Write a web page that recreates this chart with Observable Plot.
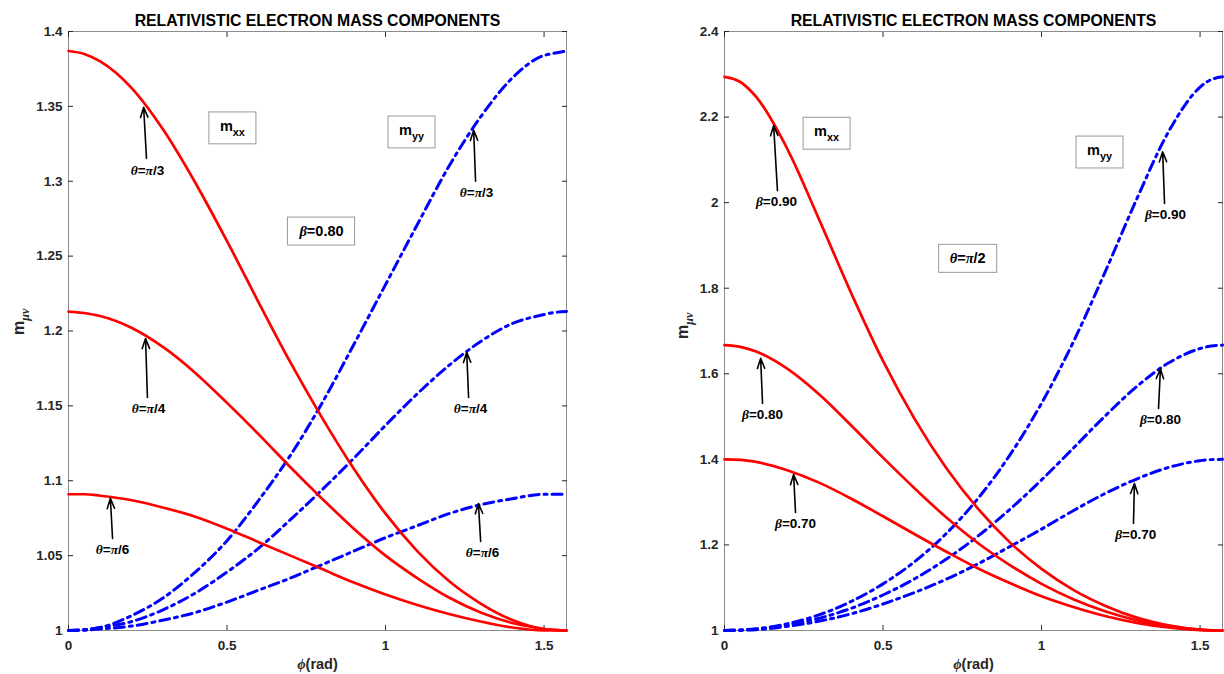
<!DOCTYPE html>
<html><head><meta charset="utf-8">
<script src="https://cdn.jsdelivr.net/npm/d3@7"></script>
<script src="https://cdn.jsdelivr.net/npm/@observablehq/plot@0.6"></script>
<style>
body{margin:0;background:#fff;}
#wrap{display:flex;width:1224px;height:674px;overflow:hidden;}
</style></head><body><div id="wrap"></div>
<script>
// ---------- data ----------
const phi = [0,0.05,0.1,0.2,0.3,0.4,0.5,0.6,0.7,0.8,0.9,1.0,1.1,1.2,1.3,1.4,1.5,1.5208,1.5708];

// left panel (beta = 0.80)
const mxxPi3 = [1.387,1.385,1.380,1.362,1.334,1.299,1.260,1.219,1.179,1.142,1.108,1.078,1.053,1.033,1.018,1.007,1.001,1.0006,1.000];
const myyPi3 = [1.000,1.0006,1.002,1.010,1.022,1.039,1.060,1.087,1.117,1.152,1.191,1.231,1.271,1.310,1.343,1.369,1.384,1.385,1.387];
const mxxPi4 = [1.213,1.212,1.210,1.202,1.189,1.172,1.152,1.131,1.109,1.088,1.068,1.050,1.035,1.022,1.012,1.005,1.001,1.0004,1.000];
const myyPi4 = [1.000,1.0004,1.002,1.006,1.014,1.025,1.039,1.055,1.074,1.094,1.115,1.137,1.158,1.177,1.193,1.205,1.211,1.212,1.213];
const mxxPi6 = [1.091,1.091,1.090,1.087,1.082,1.076,1.068,1.059,1.050,1.041,1.032,1.024,1.017,1.011,1.006,1.002,1.000,1.0002,1.000];
const myyPi6 = [1.000,1.0002,1.001,1.003,1.007,1.012,1.019,1.027,1.035,1.044,1.053,1.062,1.070,1.078,1.084,1.088,1.091,1.091,1.091];

// right panel (theta = pi/2)
const mxxB90 = [2.294,2.282,2.247,2.123,1.958,1.788,1.630,1.494,1.379,1.284,1.206,1.144,1.095,1.058,1.030,1.012,1.002,1.001,1.000];
const myyB90 = [1.000,1.001,1.004,1.016,1.037,1.068,1.109,1.161,1.227,1.309,1.410,1.531,1.674,1.837,2.008,2.165,2.270,2.282,2.294];
const mxxB80 = [1.667,1.663,1.652,1.611,1.551,1.479,1.404,1.332,1.264,1.204,1.153,1.109,1.073,1.045,1.024,1.009,1.002,1.0008,1.000];
const myyB80 = [1.000,1.0008,1.003,1.013,1.029,1.052,1.083,1.121,1.167,1.221,1.283,1.352,1.426,1.501,1.570,1.625,1.659,1.663,1.667];
const mxxB70 = [1.400,1.399,1.394,1.374,1.345,1.308,1.267,1.225,1.184,1.145,1.111,1.080,1.055,1.034,1.018,1.007,1.001,1.0006,1.000];
const myyB70 = [1.000,1.0006,1.002,1.010,1.022,1.039,1.062,1.089,1.120,1.156,1.196,1.237,1.280,1.320,1.354,1.381,1.397,1.399,1.400];

const xTicks = [0, 0.5, 1, 1.5];
const xTickLabels = ["0", "0.5", "1", "1.5"];
const leftYTicks = [1, 1.05, 1.1, 1.15, 1.2, 1.25, 1.3, 1.35, 1.4];
const leftYTickLabels = ["1", "1.05", "1.1", "1.15", "1.2", "1.25", "1.3", "1.35", "1.4"];
const rightYTicks = [1, 1.2, 1.4, 1.6, 1.8, 2, 2.2, 2.4];
const rightYTickLabels = ["1", "1.2", "1.4", "1.6", "1.8", "2", "2.2", "2.4"];

const title = "RELATIVISTIC ELECTRON MASS COMPONENTS";
const xLabel = "ϕ(rad)";
const yLabel = "m_{μν}";

const leftSeries = [
  {name: "mxx θ=π/3", comp: "mxx", values: mxxPi3},
  {name: "mxx θ=π/4", comp: "mxx", values: mxxPi4},
  {name: "mxx θ=π/6", comp: "mxx", values: mxxPi6},
  {name: "myy θ=π/3", comp: "myy", values: myyPi3},
  {name: "myy θ=π/4", comp: "myy", values: myyPi4},
  {name: "myy θ=π/6", comp: "myy", values: myyPi6}
];
const rightSeries = [
  {name: "mxx β=0.90", comp: "mxx", values: mxxB90},
  {name: "mxx β=0.80", comp: "mxx", values: mxxB80},
  {name: "mxx β=0.70", comp: "mxx", values: mxxB70},
  {name: "myy β=0.90", comp: "myy", values: myyB90},
  {name: "myy β=0.80", comp: "myy", values: myyB80},
  {name: "myy β=0.70", comp: "myy", values: myyB70}
];

// annotations (text, arrow tail -> tip, label position) in data units
const leftNotes = [
  {text: "θ=π/3", tx: 0.246, ty: 1.3153, hx: 0.237, hy: 1.3494, lx: 0.249, ly: 1.3073},
  {text: "θ=π/4", tx: 0.249, ty: 1.1556, hx: 0.243, hy: 1.1950, lx: 0.252, ly: 1.1483},
  {text: "θ=π/6", tx: 0.139, ty: 1.0615, hx: 0.132, hy: 1.0882, lx: 0.139, ly: 1.0541},
  {text: "θ=π/3", tx: 1.284, ty: 1.3000, hx: 1.278, hy: 1.3340, lx: 1.287, ly: 1.2926},
  {text: "θ=π/4", tx: 1.262, ty: 1.1556, hx: 1.256, hy: 1.1857, lx: 1.268, ly: 1.1483},
  {text: "θ=π/6", tx: 1.300, ty: 1.0595, hx: 1.293, hy: 1.0848, lx: 1.306, ly: 1.0521}
];
const rightNotes = [
  {text: "β=0.90", tx: 0.167, ty: 2.028, hx: 0.155, hy: 2.180, lx: 0.164, ly: 2.0026},
  {text: "β=0.80", tx: 0.120, ty: 1.5305, hx: 0.114, hy: 1.636, lx: 0.120, ly: 1.5048},
  {text: "β=0.70", tx: 0.224, ty: 1.2758, hx: 0.218, hy: 1.3646, lx: 0.224, ly: 1.250},
  {text: "β=0.90", tx: 1.388, ty: 1.998, hx: 1.382, hy: 2.119, lx: 1.391, ly: 1.972},
  {text: "β=0.80", tx: 1.369, ty: 1.519, hx: 1.375, hy: 1.612, lx: 1.375, ly: 1.493},
  {text: "β=0.70", tx: 1.290, ty: 1.250, hx: 1.293, hy: 1.3435, lx: 1.297, ly: 1.224}
];
const leftBoxes = [
  {text: "m_{xx}", x: 0.517, y: 1.3367},
  {text: "m_{yy}", x: 1.082, y: 1.3340},
  {text: "β=0.80", x: 0.798, y: 1.2665}
];
const rightBoxes = [
  {text: "m_{xx}", x: 0.322, y: 2.166},
  {text: "m_{yy}", x: 1.183, y: 2.122},
  {text: "θ=π/2", x: 0.767, y: 1.869}
];

// ---------- drawing ----------
const FONT = "'Liberation Sans', Arial, Helvetica, sans-serif";
const GREEK = /([θπβϕφμν])/;

function rows(series) {
  return series.flatMap(s => s.values.map((v, i) => ({phi: phi[i], m: v, series: s.name, comp: s.comp})));
}

function panel({series, yTicks, yTickLabels, marginLeft, marginRight, notes, boxes, yLabelDx, yLabelDy}) {
  const data = rows(series);
  const labelOf = (ticks, labels) => d => labels[ticks.indexOf(d)] ?? "";
  const axisStyle = {color: "#262626", fontSize: 13.5, fontWeight: "bold", label: null};
  return Plot.plot({
    width: 612, height: 674,
    marginLeft, marginRight, marginTop: 31, marginBottom: 44,
    style: {fontFamily: FONT, background: "white", overflow: "visible"},
    x: {domain: [0, 1.5708]},
    y: {domain: [yTicks[0], yTicks[yTicks.length - 1]]},
    marks: [
      Plot.frame({stroke: "#8c8c8c", strokeWidth: 1}),
      Plot.axisX({...axisStyle, ticks: xTicks, tickFormat: labelOf(xTicks, xTickLabels), tickSize: -5, tickPadding: 15}),
      Plot.axisX({...axisStyle, anchor: "top", ticks: xTicks, tickFormat: () => "", tickSize: -5}),
      Plot.axisY({...axisStyle, ticks: yTicks, tickFormat: labelOf(yTicks, yTickLabels), tickSize: -5, tickPadding: 11}),
      Plot.axisY({...axisStyle, anchor: "right", ticks: yTicks, tickFormat: () => "", tickSize: -5}),
      Plot.line(data.filter(d => d.comp === "myy"), {x: "phi", y: "m", z: "series", stroke: "#0000ff", strokeWidth: 3, strokeDasharray: "10,5,3,5", curve: "monotone-x"}),
      Plot.line(data.filter(d => d.comp === "mxx"), {x: "phi", y: "m", z: "series", stroke: "#ff0000", strokeWidth: 2.7, curve: "monotone-x"}),
      Plot.arrow(notes, {x1: "tx", y1: "ty", x2: "hx", y2: "hy", stroke: "black", strokeWidth: 1.6, headLength: 10, headAngle: 40}),
      Plot.text(notes, {x: "lx", y: "ly", text: "text", fontSize: 13.5, fontWeight: "bold", fill: "black"}),
      Plot.text(boxes, {x: "x", y: "y", text: "text", fontSize: 14.5, fontWeight: "bold", fill: "black"}),
      Plot.text([title], {frameAnchor: "top", lineAnchor: "bottom", dy: -6, fontSize: 15.8, fontWeight: "bold", fill: "black"}),
      Plot.text([xLabel], {frameAnchor: "bottom", lineAnchor: "bottom", dy: 38, fontSize: 14.5, fontWeight: "bold", fill: "#262626"}),
      Plot.text([yLabel], {frameAnchor: "left", rotate: -90, lineAnchor: "bottom", dx: yLabelDx, dy: yLabelDy, fontSize: 16, fontWeight: "bold", fill: "#262626"})
    ]
  });
}

function richify(svg, boxTexts) {
  const boxed = [];
  d3.select(svg).selectAll("text").each(function () {
    const t = this.textContent;
    if (boxTexts.includes(t)) boxed.push(this);
    if (!GREEK.test(t) && !/_\{/.test(t)) return;
    const parts = [];
    const re = /_\{([^}]*)\}/g;
    let last = 0, m;
    while ((m = re.exec(t))) {
      if (m.index > last) parts.push({s: t.slice(last, m.index), sub: false});
      parts.push({s: m[1], sub: true});
      last = re.lastIndex;
    }
    if (last < t.length) parts.push({s: t.slice(last), sub: false});
    this.textContent = "";
    const el = d3.select(this);
    for (const p of parts) {
      p.s.split(GREEK).filter(s => s).forEach((s, j) => {
        const ts = el.append("tspan").text(s);
        if (GREEK.test(s)) ts.attr("font-style", "italic").attr("font-family", "'Liberation Serif', 'DejaVu Serif', serif");
        if (p.sub) {
          ts.attr("font-size", "0.75em");
          if (j === 0) ts.attr("dy", "0.45em");
        }
      });
    }
  });
  for (const node of boxed) {
    const bb = node.getBBox();
    const padX = 11, padY = 6;
    d3.select(node.parentNode).insert("rect", () => node)
      .attr("x", bb.x - padX).attr("y", bb.y - padY)
      .attr("width", bb.width + 2 * padX).attr("height", bb.height + 2 * padY)
      .attr("transform", node.getAttribute("transform"))
      .attr("fill", "white").attr("stroke", "#999").attr("stroke-width", 1);
  }
}

const wrap = document.getElementById("wrap");
const left = panel({series: leftSeries, yTicks: leftYTicks, yTickLabels: leftYTickLabels,
  marginLeft: 68, marginRight: 46, notes: leftNotes, boxes: leftBoxes, yLabelDx: -45, yLabelDy: 4});
const right = panel({series: rightSeries, yTicks: rightYTicks, yTickLabels: rightYTickLabels,
  marginLeft: 112, marginRight: 2, notes: rightNotes, boxes: rightBoxes, yLabelDx: -37, yLabelDy: 8});
wrap.appendChild(left);
wrap.appendChild(right);
richify(left, leftBoxes.map(d => d.text));
richify(right, rightBoxes.map(d => d.text));
</script></body></html>
